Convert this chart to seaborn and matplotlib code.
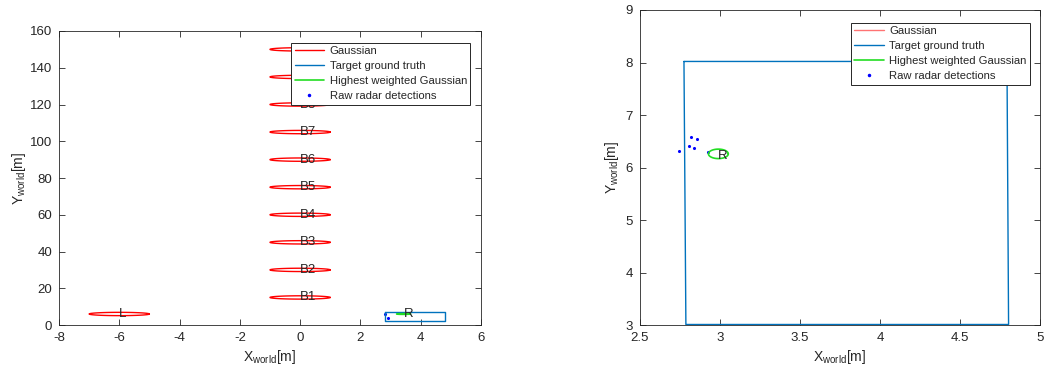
import numpy as np
import pandas as pd
import matplotlib
matplotlib.use("Agg")
import matplotlib.pyplot as plt
import seaborn as sns
from matplotlib.lines import Line2D

sns.set_style("white")
plt.rcParams['font.family'] = ['Liberation Sans', 'DejaVu Sans']
plt.rcParams['mathtext.default'] = 'regular'
plt.rcParams['axes.unicode_minus'] = False

# ---- left panel data (whole scene) ----
gauss_names = ["L", "B1", "B2", "B3", "B4", "B5", "B6", "B7", "B8", "B9", "B10"]
gauss_x = [-6, 0, 0, 0, 0, 0, 0, 0, 0, 0, 0]
gauss_y = [6, 15, 30, 45, 60, 75, 90, 105, 120, 135, 150]
gauss_sx = [1.0] * 11
gauss_sy = [0.9] * 11

truth_left_x = [2.8, 4.8, 4.8, 2.8, 2.8]
truth_left_y = [7.2, 7.2, 2.2, 2.2, 7.2]
best_left = dict(x=3.43, y=6.0, sx=0.23, sy=0.2)
det_left_x = [2.83, 2.93]
det_left_y = [6.0, 4.0]
r_left = (3.43, 6.2)

# ---- right panel data (zoom on target) ----
truth_right_x = [2.775, 4.794, 4.804, 2.787, 2.775]
truth_right_y = [8.02, 8.02, 3.01, 3.01, 8.02]
best_right = dict(x=2.99, y=6.26, sx=0.062, sy=0.09)
det_right_x = [2.746, 2.806, 2.82, 2.856, 2.836, 2.927]
det_right_y = [6.31, 6.41, 6.59, 6.55, 6.37, 6.29]
r_right = (2.99, 6.22)

RED = "#ff0000"
BLUE = "#0072bd"
GREEN = "#22dd22"
DOT = "#0000ff"
t = np.linspace(0, 2 * np.pi, 100)


def ellipse_df(xs, ys, sxs, sys_):
    rows = []
    for k, (cx, cy, a, b) in enumerate(zip(xs, ys, sxs, sys_)):
        rows.append(pd.DataFrame({"x": cx + a * np.cos(t), "y": cy + b * np.sin(t), "id": k}))
    return pd.concat(rows)


def style_axes(ax, ylabelpad):
    for s in ax.spines.values():
        s.set_color("#262626")
        s.set_linewidth(0.6)
    ax.tick_params(direction="in", top=True, right=True, length=4, width=0.6, pad=5,
                   colors="#262626", labelsize=9.5, bottom=True, left=True)
    ax.set_xlabel("X$_{world}$[m]", fontsize=10, color="#262626", labelpad=3)
    ax.set_ylabel("Y$_{world}$[m]", fontsize=10, color="#262626", labelpad=ylabelpad)


def add_legend(ax, red_alpha):
    handles = [Line2D([], [], color=RED, alpha=red_alpha, lw=1),
               Line2D([], [], color=BLUE, lw=1),
               Line2D([], [], color=GREEN, lw=1.2),
               Line2D([], [], color=DOT, marker=".", ms=3, lw=0)]
    labels = ["Gaussian", "Target ground truth", "Highest weighted Gaussian", "Raw radar detections"]
    leg = ax.legend(handles, labels, loc="upper right", bbox_to_anchor=(0.975, 0.96), fontsize=8.1,
                    fancybox=False, framealpha=1, edgecolor="#262626", handlelength=2.6,
                    handletextpad=0.5, borderpad=0.3, labelspacing=0.45, borderaxespad=0)
    leg.get_frame().set_linewidth(0.7)
    leg.set_zorder(10)


fig = plt.figure(figsize=(10.44, 3.69), dpi=100)
ax1 = fig.add_axes([0.0565, 0.1192, 0.4042, 0.7968])
ax2 = fig.add_axes([0.613, 0.1192, 0.3831, 0.8537])

# left panel
edf = ellipse_df(gauss_x, gauss_y, gauss_sx, gauss_sy)
sns.lineplot(data=edf, x="x", y="y", units="id", estimator=None, sort=False, color=RED, lw=1, ax=ax1)
for name, cx, cy in zip(gauss_names, gauss_x, gauss_y):
    ax1.text(cx, cy, name, fontsize=9.5, va="center", ha="left")
sns.lineplot(x=truth_left_x, y=truth_left_y, sort=False, estimator=None, color=BLUE, lw=1, ax=ax1)
bdf = ellipse_df([best_left["x"]], [best_left["y"]], [best_left["sx"]], [best_left["sy"]])
sns.lineplot(data=bdf, x="x", y="y", units="id", estimator=None, sort=False, color=GREEN, lw=1.2, ax=ax1)
sns.scatterplot(x=det_left_x, y=det_left_y, color=DOT, s=5, linewidth=0, ax=ax1)
ax1.text(r_left[0], r_left[1], "R", fontsize=9.5, va="center", ha="left")
ax1.set_xlim(-8, 6)
ax1.set_ylim(0, 160)
ax1.set_xticks(range(-8, 7, 2))
ax1.set_yticks(range(0, 161, 20))
style_axes(ax1, 1)
add_legend(ax1, 1.0)

# right panel
sns.lineplot(x=truth_right_x, y=truth_right_y, sort=False, estimator=None, color=BLUE, lw=1, ax=ax2)
bdf2 = ellipse_df([best_right["x"]], [best_right["y"]], [best_right["sx"]], [best_right["sy"]])
sns.lineplot(data=bdf2, x="x", y="y", units="id", estimator=None, sort=False, color=GREEN, lw=1.2, ax=ax2)
sns.scatterplot(x=det_right_x, y=det_right_y, color=DOT, s=5, linewidth=0, ax=ax2)
ax2.text(r_right[0], r_right[1], "R", fontsize=9.5, va="center", ha="left")
ax2.set_xlim(2.5, 5)
ax2.set_ylim(3, 9)
ax2.set_xticks([2.5, 3, 3.5, 4, 4.5, 5])
ax2.set_xticklabels(["2.5", "3", "3.5", "4", "4.5", "5"])
ax2.set_yticks(range(3, 10))
style_axes(ax2, 3)
add_legend(ax2, 0.55)

fig.savefig("out.png", dpi=100)
